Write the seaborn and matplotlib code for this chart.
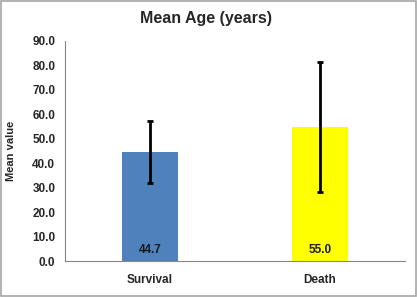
import pandas as pd
import matplotlib.pyplot as plt
import seaborn as sns
from matplotlib.patches import Rectangle

groups = ['Survival', 'Death']
mean_age = [44.7, 55.0]
sd_age = [12.6, 26.6]
bar_colors = ['#4F81BD', '#FFFF00']

df = pd.DataFrame({'Group': groups, 'Mean': mean_age, 'SD': sd_age})

sns.set_style('white')
plt.rcParams['font.family'] = ['Liberation Sans', 'DejaVu Sans']

fig = plt.figure(figsize=(4.17, 2.97), dpi=100)
ax = fig.add_axes([0.156, 0.121, 0.815, 0.741])

sns.barplot(data=df, x='Group', y='Mean', hue='Group', palette=bar_colors,
            width=0.33, legend=False, ax=ax, saturation=1, edgecolor='none')
ax.errorbar(range(len(groups)), df['Mean'], yerr=df['SD'], fmt='none',
            ecolor='black', elinewidth=2, capsize=2.5, capthick=2)

for i, v in enumerate(mean_age):
    ax.text(i, 4.5, f'{v:.1f}', ha='center', va='center',
            fontsize=8.5, fontweight='bold', color='#1a1a1a')

ax.set_xlim(-0.5, 1.5)
ax.set_ylim(0, 90)
ax.set_yticks(range(0, 91, 10))
ax.set_yticklabels([f'{t:.1f}' for t in range(0, 91, 10)],
                   fontsize=8.5, fontweight='bold')
ax.set_xticks([0, 1])
ax.set_xticklabels(groups, fontsize=8.5, fontweight='bold')
ax.set_xticks([-0.5, 0.5, 1.5], minor=True)
ax.tick_params(axis='x', which='major', length=0, pad=9)
ax.tick_params(axis='x', which='minor', length=4, color='#868686', direction='out')
ax.tick_params(axis='y', length=4, color='#868686', direction='out', pad=3)
ax.set_xlabel('')
ax.set_ylabel('Mean value', fontsize=8, fontweight='bold', labelpad=12)
fig.text(0.494, 0.938, 'Mean Age (years)', ha='center', va='center',
         fontsize=11.5, fontweight='bold')

for s in ['top', 'right']:
    ax.spines[s].set_visible(False)
for s in ['left', 'bottom']:
    ax.spines[s].set_color('#868686')
    ax.spines[s].set_linewidth(0.8)

fig.patches.append(Rectangle((0.002, 0.003), 0.995, 0.993, transform=fig.transFigure,
                             fill=False, edgecolor='#A6A6A6', linewidth=1.2))

fig.savefig('out.png', dpi=100)
